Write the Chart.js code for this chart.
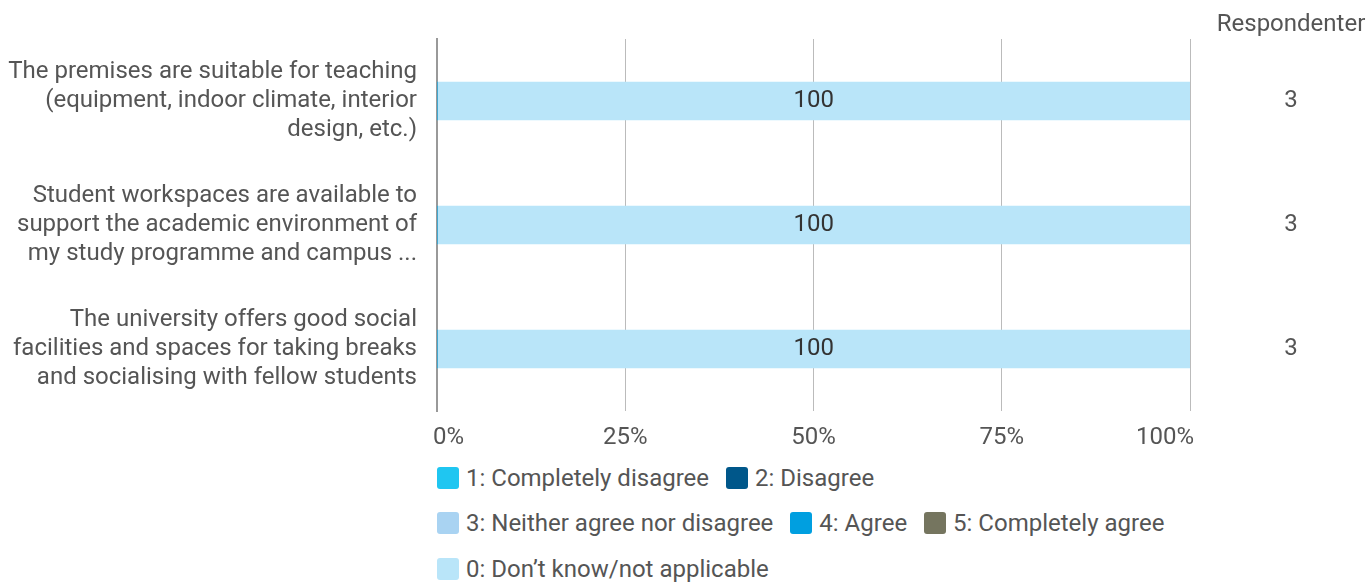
<!DOCTYPE html>
<html>
<head>
<meta charset="utf-8">
<script src="https://cdn.jsdelivr.net/npm/chart.js@4.4.1/dist/chart.umd.min.js"></script>
<style>
    body { margin: 0; background: #fff; font-family: Roboto, sans-serif; }
    #wrap { position: relative; width: 1367px; height: 455px; }
    #legend { position: absolute; left: 437px; top: 455px; width: 760px; display: flex; flex-wrap: wrap; column-gap: 17px; }
    .item { display: flex; align-items: center; height: 45.5px; font-size: 24px; color: #555; }
    .box { width: 22px; height: 22px; border-radius: 3px; margin-right: 7px; }
</style>
</head>
<body>
<div id="wrap"><canvas id="chart"></canvas></div>
<div id="legend"></div>
<script>
// categories (statements), wrapped the way they appear in the picture
const categories = [
    ['The premises are suitable for teaching', '(equipment, indoor climate, interior', 'design, etc.)'],
    ['Student workspaces are available to', 'support the academic environment of', 'my study programme and campus ...'],
    ['The university offers good social', 'facilities and spaces for taking breaks', 'and socialising with fellow students']
];
const seriesNames = ['1: Completely disagree', '2: Disagree', '3: Neither agree nor disagree', '4: Agree', '5: Completely agree', '0: Don\u2019t know/not applicable'];
const seriesColors = ['#1fc6f1', '#00578a', '#a9d3f2', '#009fe0', '#75755f', '#b9e5f9'];
// percentage per series, per category
const completelyDisagree = [0, 0, 0];
const disagree = [0, 0, 0];
const neither = [0, 0, 0];
const agree = [0, 0, 0];
const completelyAgree = [0, 0, 0];
const dontKnow = [100, 100, 100];
const respondents = [3, 3, 3];
const xTicks = [0, 25, 50, 75, 100];

const seriesValues = [completelyDisagree, disagree, neither, agree, completelyAgree, dontKnow];
const textColor = '#555';

// bar value labels, x tick labels and the respondent column
const labelsPlugin = {
    id: 'labels',
    afterDatasetsDraw(chart) {
        const ctx = chart.ctx;
        ctx.save();
        ctx.font = '24px Roboto';
        ctx.textAlign = 'center';
        ctx.textBaseline = 'middle';
        chart.data.datasets.forEach((ds, i) => {
            const meta = chart.getDatasetMeta(i);
            meta.data.forEach((bar, j) => {
                if (!ds.data[j]) return;
                ctx.fillStyle = '#333';
                ctx.fillText(ds.data[j], (bar.base + bar.x) / 2, bar.y);
            });
        });

        // x ticks: first one left aligned, last one right aligned, like the original
        const xScale = chart.scales.x;
        const ty = chart.chartArea.bottom + 27;
        ctx.fillStyle = textColor;
        xTicks.forEach((v, i) => {
            let x = xScale.getPixelForValue(v);
            if (i === 0) { ctx.textAlign = 'left'; x -= 4; }
            else if (i === xTicks.length - 1) { ctx.textAlign = 'right'; x += 4; }
            else ctx.textAlign = 'center';
            ctx.fillText(v + '%', x, ty);
        });

        const yScale = chart.scales.y;
        const colX = chart.chartArea.right + 101;
        ctx.textAlign = 'center';
        respondents.forEach((n, j) => {
            ctx.fillText(n, colX, yScale.getPixelForValue(j));
        });
        ctx.fillText('Respondenter', colX, 25);
        ctx.restore();
    }
};

const ctx = document.getElementById('chart').getContext('2d');
new Chart(ctx, {
    type: 'bar',
    data: {
        labels: categories,
        datasets: seriesNames.map((name, i) => ({
            label: name,
            data: seriesValues[i],
            backgroundColor: seriesColors[i],
            barThickness: 38,
            borderWidth: 0
        }))
    },
    options: {
        indexAxis: 'y',
        responsive: true,
        maintainAspectRatio: false,
        animation: false,
        layout: { padding: { top: 39, right: 177, left: 0, bottom: 0 } },
        plugins: {
            legend: { display: false },
            tooltip: { enabled: false }
        },
        scales: {
            x: {
                stacked: true,
                min: 0,
                max: 100,
                afterBuildTicks: (scale) => { scale.ticks = xTicks.map(v => ({ value: v })); },
                ticks: { display: false },
                grid: { color: '#bbb', lineWidth: 1, drawTicks: false },
                border: { display: false },
                afterFit: (scale) => { scale.height = 44; scale.paddingLeft = 0; scale.paddingRight = 0; }
            },
            y: {
                stacked: true,
                ticks: {
                    color: textColor,
                    font: { family: 'Roboto', size: 24, lineHeight: 1.2 },
                    padding: 20
                },
                grid: { display: false, drawTicks: false },
                border: { display: true, color: '#999', width: 2 },
                afterFit: (scale) => { scale.width = 437; scale.paddingTop = 0; scale.paddingBottom = 0; }
            }
        }
    },
    plugins: [labelsPlugin]
});

// legend below the chart
const legend = document.getElementById('legend');
seriesNames.forEach((name, i) => {
    const item = document.createElement('div');
    item.className = 'item';
    item.innerHTML = '<span class="box" style="background:' + seriesColors[i] + '"></span><span>' + name + '</span>';
    legend.appendChild(item);
});
</script>
</body>
</html>
